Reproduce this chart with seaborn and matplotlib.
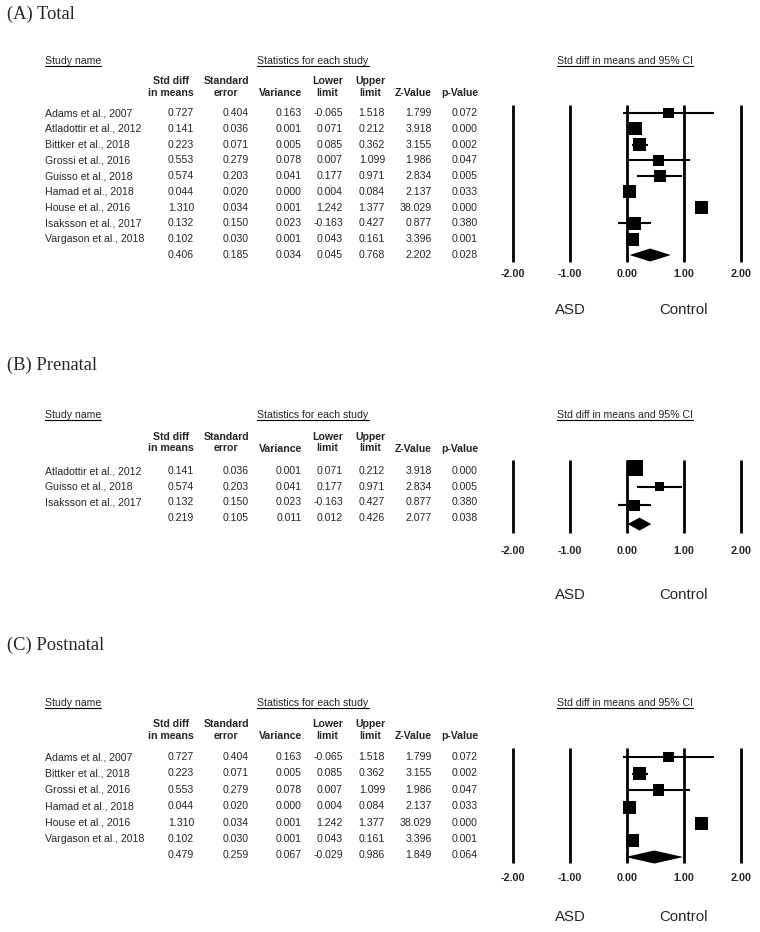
import numpy as np
import pandas as pd
import matplotlib
matplotlib.use("Agg")
import matplotlib.pyplot as plt
from matplotlib.lines import Line2D
import seaborn as sns

# study level results (subgroups reuse the same rows)
studies = ["Adams et al., 2007", "Atladottir et al., 2012", "Bittker et al., 2018",
           "Grossi et al., 2016", "Guisso et al., 2018", "Hamad et al., 2018",
           "House et al., 2016", "Isaksson et al., 2017", "Vargason et al., 2018"]
std_diff = [0.727, 0.141, 0.223, 0.553, 0.574, 0.044, 1.310, 0.132, 0.102]
std_err = [0.404, 0.036, 0.071, 0.279, 0.203, 0.020, 0.034, 0.150, 0.030]
variance = [0.163, 0.001, 0.005, 0.078, 0.041, 0.000, 0.001, 0.023, 0.001]
lower = [-0.065, 0.071, 0.085, 0.007, 0.177, 0.004, 1.242, -0.163, 0.043]
upper = [1.518, 0.212, 0.362, 1.099, 0.971, 0.084, 1.377, 0.427, 0.161]
z_value = [1.799, 3.918, 3.155, 1.986, 2.834, 2.137, 38.029, 0.877, 3.396]
p_value = [0.072, 0.000, 0.002, 0.047, 0.005, 0.033, 0.000, 0.380, 0.001]

prenatal = ["Atladottir et al., 2012", "Guisso et al., 2018", "Isaksson et al., 2017"]
postnatal = ["Adams et al., 2007", "Bittker et al., 2018", "Grossi et al., 2016",
             "Hamad et al., 2018", "House et al., 2016", "Vargason et al., 2018"]

# pooled rows: std diff, se, variance, lower, upper, z, p
pooled_total = [0.406, 0.185, 0.034, 0.045, 0.768, 2.202, 0.028]
pooled_prenatal = [0.219, 0.105, 0.011, 0.012, 0.426, 2.077, 0.038]
pooled_postnatal = [0.479, 0.259, 0.067, -0.029, 0.986, 1.849, 0.064]

axis_ticks = [-2, -1, 0, 1, 2]
side_labels = ["ASD", "Control"]

cols = ["std_diff", "std_err", "variance", "lower", "upper", "z", "p"]
headers = ["Std diff\nin means", "Standard\nerror", "Variance", "Lower\nlimit",
           "Upper\nlimit", "Z-Value", "p-Value"]

df = pd.DataFrame({"study": studies, "std_diff": std_diff, "std_err": std_err,
                   "variance": variance, "lower": lower, "upper": upper,
                   "z": z_value, "p": p_value})

sns.set_style("white")
plt.rcParams["font.family"] = ["Liberation Sans", "DejaVu Sans"]

W, H = 760, 932
fig = plt.figure(figsize=(W / 100, H / 100), dpi=100)

# layout in pixels
col_right = [194, 249, 302, 343, 385, 432, 478]
x_lo, x_hi = 513, 741
FS = 7.6

panels = [
    dict(label="(A) Total", names=studies, pooled=pooled_total, title_y=14.5,
         head_y=61, col_y=87, row0=113, step=15.78, prow0=113, pstep=15.78,
         line_top=105, line_bot=262, tick_y=275, side_y=310, max_side=13),
    dict(label="(B) Prenatal", names=prenatal, pooled=pooled_prenatal, title_y=365,
         head_y=415, col_y=442.5, row0=471, step=15.67, prow0=468, pstep=18.7,
         line_top=460, line_bot=533, tick_y=552, side_y=595, max_side=15.5),
    dict(label="(C) Postnatal", names=postnatal, pooled=pooled_postnatal, title_y=645,
         head_y=703, col_y=730, row0=757, step=16.4, prow0=757, pstep=16.67,
         line_top=748, line_bot=863, tick_y=879, side_y=917, max_side=13),
]


def put(x, y, s, **kw):
    return fig.text(x / W, 1 - y / H, s, **kw)


def re_weights(var, pooled_var):
    # random effects weights, tau^2 picked so the weights give the pooled variance
    target = 1.0 / pooled_var
    lo, hi = 0.0, 10.0
    for _ in range(80):
        mid = (lo + hi) / 2
        if np.sum(1.0 / (var + mid)) > target:
            lo = mid
        else:
            hi = mid
    return 1.0 / (var + lo)


underlined = []

for p in panels:
    sub = df.set_index("study").loc[p["names"]].reset_index()
    n = len(sub)

    # left side: table
    put(7, p["title_y"], p["label"], family="Liberation Serif", fontsize=13.3,
        va="center", ha="left")
    underlined.append(put(45, p["head_y"], "Study name", fontsize=FS, va="center"))
    underlined.append(put(313, p["head_y"], "Statistics for each study", fontsize=FS,
                          va="center", ha="center"))
    for xr, h in zip(col_right, headers):
        put(xr, p["col_y"] if "\n" in h else p["col_y"] + 6, h, fontsize=FS,
            fontweight="bold", ha="right", va="center", multialignment="center",
            linespacing=1.14)
    for i, row in sub.iterrows():
        y = p["row0"] + i * p["step"]
        put(45, y, row["study"], fontsize=FS, va="center")
        for xr, c in zip(col_right, cols):
            put(xr, y, f"{row[c]:.3f}", fontsize=FS, va="center", ha="right")
    y = p["row0"] + n * p["step"]
    for xr, v in zip(col_right, p["pooled"]):
        put(xr, y, f"{v:.3f}", fontsize=FS, va="center", ha="right")

    # right side: forest plot
    underlined.append(put(625, p["head_y"], "Std diff in means and 95% CI",
                          fontsize=FS, va="center", ha="center"))
    top = p["prow0"]
    bot = p["prow0"] + n * p["pstep"]
    ax = fig.add_axes([x_lo / W, 1 - bot / H, (x_hi - x_lo) / W, (bot - top) / H])
    ax.set_xlim(axis_ticks[0], axis_ticks[-1])
    ax.set_ylim(n, 0)
    sub["row"] = np.arange(n)
    sub["weight"] = re_weights(sub["std_err"].values ** 2, p["pooled"][2])

    def to_row(ypx):
        return (ypx - p["prow0"]) / p["pstep"]

    ax.vlines(axis_ticks, to_row(p["line_top"]), to_row(p["line_bot"]),
              color="black", lw=2.0, clip_on=False)
    ax.hlines(sub["row"], sub["lower"], sub["upper"], color="black", lw=1.5,
              clip_on=False)
    smax = (p["max_side"] * 0.72) ** 2
    sns.scatterplot(data=sub, x="std_diff", y="row", size="weight",
                    sizes=(0, smax), size_norm=(0, sub["weight"].max()),
                    marker="s", color="black", linewidth=0, legend=False,
                    ax=ax, zorder=3, clip_on=False)
    est, lo_ci, hi_ci = p["pooled"][0], p["pooled"][3], p["pooled"][4]
    hh = 6.5 / p["pstep"]
    ax.fill([lo_ci, est, hi_ci, est], [n, n - hh, n, n + hh], color="black",
            lw=0, zorder=3, clip_on=False)

    ax.set_xticks(axis_ticks)
    ax.set_xticklabels([f"{t:.2f}" for t in axis_ticks], fontweight="bold",
                       fontsize=7.8)
    pad_px = p["tick_y"] - bot - 6.2
    ax.tick_params(axis="x", length=0, pad=pad_px * 0.72)
    ax.set_yticks([])
    ax.set_xlabel("")
    ax.set_ylabel("")
    sns.despine(ax=ax, left=True, bottom=True)
    ax.patch.set_visible(False)
    for xv, s in zip([-1, 1], side_labels):
        ax.text(xv, to_row(p["side_y"]), s, fontsize=10.8, ha="center",
                va="center", clip_on=False)

# underline the column group titles
fig.canvas.draw()
r = fig.canvas.get_renderer()
for t in underlined:
    bb = t.get_window_extent(r)
    fig.add_artist(Line2D([bb.x0 / W, bb.x1 / W], [bb.y0 / H, bb.y0 / H],
                          color="black", lw=0.8))

fig.savefig("out.png", dpi=100)
